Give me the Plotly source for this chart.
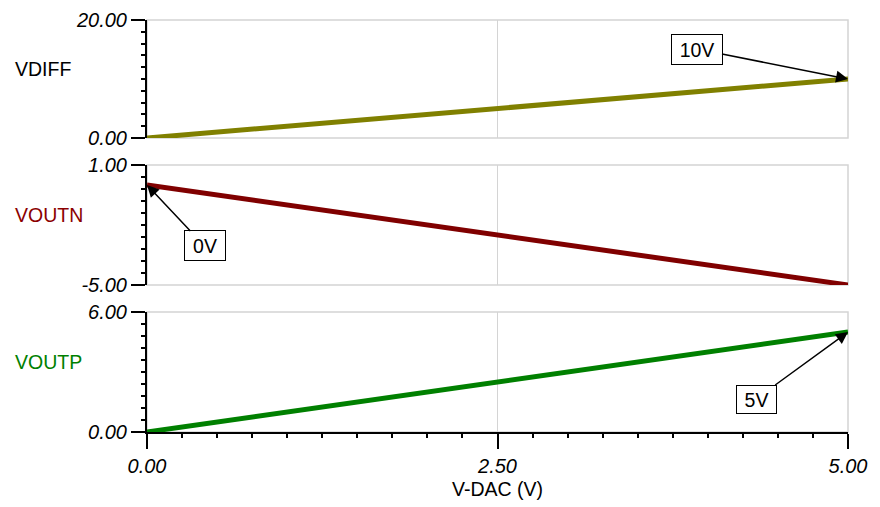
import plotly.graph_objects as go

# ---- data ----
v_dac = [0.0, 0.5, 1.0, 1.5, 2.0, 2.5, 3.0, 3.5, 4.0, 4.5, 5.0]
vdiff = [0.0, 1.0, 2.0, 3.0, 4.0, 5.0, 6.0, 7.0, 8.0, 9.0, 10.0]
voutn = [0.0, -0.5, -1.0, -1.5, -2.0, -2.5, -3.0, -3.5, -4.0, -4.5, -5.0]
voutp = [0.0, 0.5, 1.0, 1.5, 2.0, 2.5, 3.0, 3.5, 4.0, 4.5, 5.0]

series_names = ["VDIFF", "VOUTN", "VOUTP"]
series_colors = ["#808000", "#800000", "#008000"]
label_colors = ["#000000", "#8b0000", "#008000"]
y_ranges = [[0, 20], [-5, 1], [0, 6]]
x_range = [0, 5]
x_ticks = [0.0, 2.5, 5.0]
x_title = "V-DAC (V)"

# annotations: (text, x value, y value, panel index)
notes = [("10V", 5.0, 10.0, 0), ("0V", 0.0, 0.0, 1), ("5V", 5.0, 5.0, 2)]

FONT = "Liberation Sans"
GRID = "#d4d4d4"

# layout geometry (window pixels; page body has an 8px margin)
OFF = 8
W, H = 880, 507
px_left, px_right, px_top, px_bottom = 147, 848, 20, 432
L = px_left - OFF
T = px_top - OFF
R = W - (px_right - OFF)
B = H - (px_bottom - OFF)
ph = px_bottom - px_top
pw = px_right - px_left
panels_px = [(20, 138), (165, 285), (312, 432)]
domains = [[(px_bottom - b) / ph, (px_bottom - t) / ph] for t, b in panels_px]

fig = go.Figure()
ynames = ["y", "y2", "y3"]
for i, vals in enumerate([vdiff, voutn, voutp]):
    fig.add_trace(go.Scatter(
        x=v_dac, y=vals, mode="lines", name=series_names[i],
        line=dict(color=series_colors[i], width=5),
        xaxis="x", yaxis=ynames[i], showlegend=False, hoverinfo="skip"))

layout = dict(
    width=W, height=H,
    margin=dict(l=L, r=R, t=T, b=B, autoexpand=False),
    paper_bgcolor="white", plot_bgcolor="white",
    font=dict(family=FONT, size=19.5, color="black"),
    showlegend=False,
)

TICKFONT = dict(family=FONT, size=20, style="italic", color="black")

layout["xaxis"] = dict(
    domain=[0, 1], anchor="y3", range=x_range, automargin=False,
    ticklabeloverflow="allow",
    tickmode="array", tickvals=x_ticks, ticktext=[f"{v:.2f}" for v in x_ticks],
    ticks="outside", ticklen=15, tickwidth=1.5, tickcolor="black",
    tickfont=TICKFONT,
    showline=True, linecolor="black", linewidth=2,
    showgrid=True, gridcolor=GRID, gridwidth=1.2, zeroline=False,
    minor=dict(tickmode="linear", tick0=0, dtick=0.25, ticks="outside",
               ticklen=4, tickwidth=1.5, tickcolor="black", showgrid=False),
    title=dict(text=x_title, font=dict(family=FONT, size=19.5), standoff=6),
)
# medium ticks on x
layout["xaxis2"] = dict(
    overlaying="x", anchor="y3", range=x_range, side="bottom", automargin=False,
    tickmode="array", tickvals=[1.25, 3.75], showticklabels=False,
    ticks="outside", ticklen=8, tickwidth=1.5, tickcolor="black",
    showline=False, showgrid=False, zeroline=False,
)

for i in range(3):
    lo, hi = y_ranges[i]
    key = "yaxis" if i == 0 else f"yaxis{i+1}"
    layout[key] = dict(
        domain=domains[i], anchor="x", range=[lo, hi], automargin=False,
        ticklabeloverflow="allow",
        tickmode="array", tickvals=[lo, hi],
        ticktext=[f"{lo:.2f}", f"{hi:.2f}"],
        ticks="outside", ticklen=14, tickwidth=1.5, tickcolor="black",
        tickfont=TICKFONT,
        showline=True, linecolor="black", linewidth=2,
        showgrid=False, zeroline=False,
        minor=dict(tickmode="linear", tick0=lo, dtick=(hi - lo) / 10,
                   ticks="outside", ticklen=4, tickwidth=1.5,
                   tickcolor="black", showgrid=False),
    )
    # medium tick at middle
    mkey = f"yaxis{i+4}"
    layout[mkey] = dict(
        overlaying=ynames[i], anchor="x", range=[lo, hi], side="left",
        automargin=False,
        tickmode="array", tickvals=[(lo + hi) / 2], showticklabels=False,
        ticks="outside", ticklen=6, tickwidth=1.5, tickcolor="black",
        showline=False, showgrid=False, zeroline=False,
    )

fig.update_layout(**layout)

# light gray frame round each panel (drawn below the traces and axis lines)
for i in range(3):
    fig.add_shape(type="rect", xref="x domain", yref=f"{ynames[i]} domain",
                  x0=0, x1=1, y0=0, y1=1, layer="below",
                  line=dict(color=GRID, width=1.5), fillcolor="rgba(0,0,0,0)")

# series labels on the left
label_y = [69, 215, 362]
for i in range(3):
    fig.add_annotation(
        text=series_names[i], xref="paper", yref="paper",
        x=(13 - px_left) / pw, y=(px_bottom - label_y[i]) / ph,
        xanchor="left", yanchor="middle", showarrow=False,
        font=dict(family=FONT, size=19.5, color=label_colors[i]))

# value callouts
offsets = {"10V": (-151.5, -30, 48, 27), "0V": (57.5, 61, 38, 27), "5V": (-92, 67, 37, 25)}
for text, xv, yv, p in notes:
    ax, ay, w, h = offsets[text]
    fig.add_annotation(
        text=text, x=xv, y=yv, xref="x", yref=ynames[p],
        ax=ax, ay=ay, axref="pixel", ayref="pixel",
        showarrow=True, arrowhead=2, arrowsize=1.6, arrowwidth=1.5,
        arrowcolor="black", standoff=0, startstandoff=0,
        bgcolor="white", bordercolor="black", borderwidth=1, borderpad=1,
        width=w, height=h,
        font=dict(family=FONT, size=19.5, color="black"))

fig.write_html("out.html")
